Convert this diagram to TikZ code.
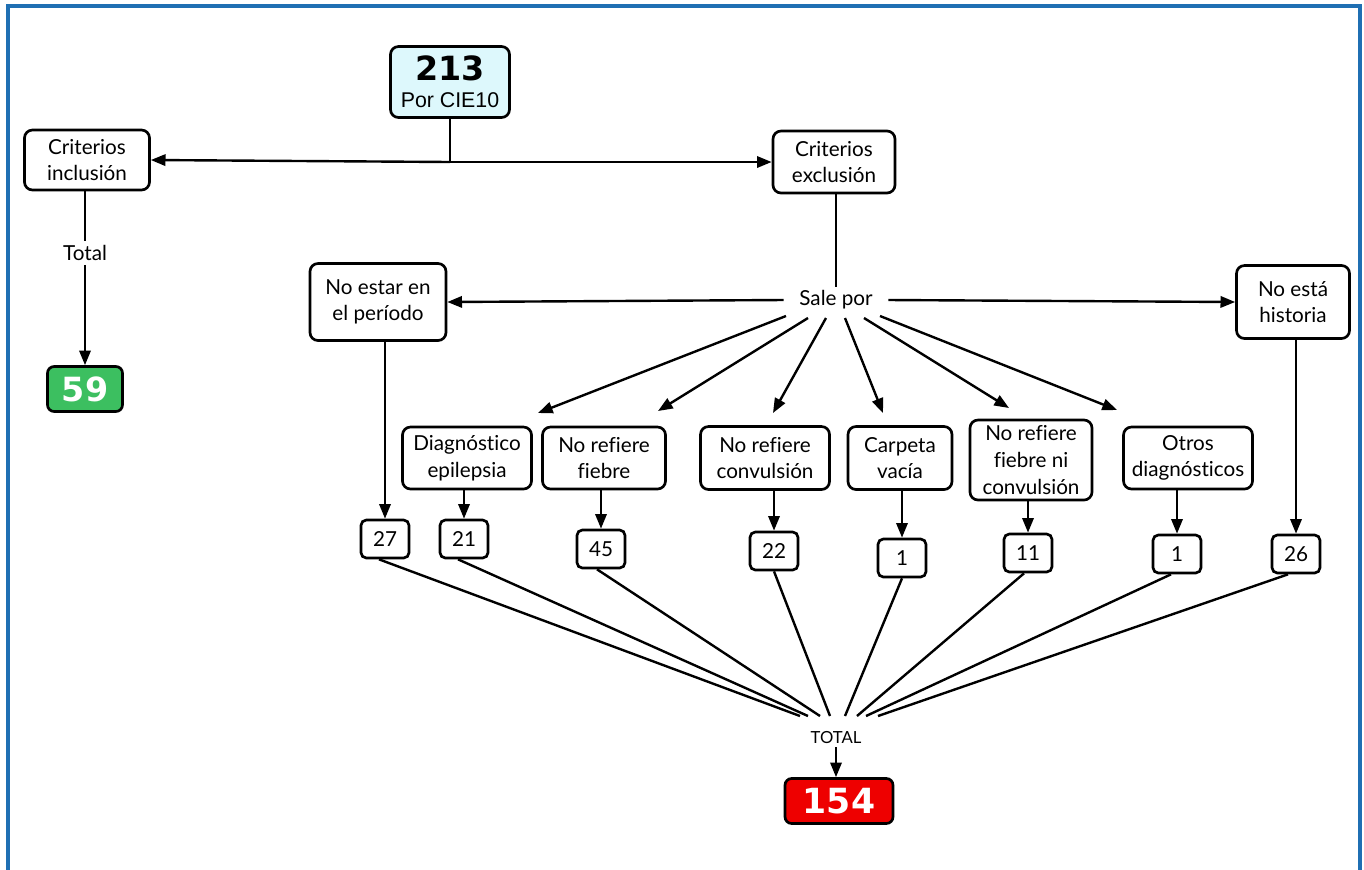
\documentclass[tikz,border=0pt]{standalone}
\usepackage{fontspec}
\setmainfont{Lato}[Ligatures=NoCommon]
\newfontfamily\numfont{DejaVu Sans}
\newfontfamily\arialfont{Liberation Sans}
\usetikzlibrary{arrows.meta}
\definecolor{frameblue}{HTML}{1F6FB3}
\definecolor{topcyan}{HTML}{DDF8FC}
\definecolor{boxgreen}{HTML}{3CBF60}
\definecolor{boxred}{HTML}{EE0000}
\begin{document}
\begin{tikzpicture}[x=0.75pt,y=-0.75pt,
  sz/.style 2 args={minimum width=#1*0.75pt, minimum height=#2*0.75pt},
  box/.style={draw=black, line width=2pt, rounded corners=6pt, fill=white, align=center,
    font=\fontsize{15.5}{20}\selectfont, inner sep=0pt},
  numbox/.style={box, rounded corners=4pt, sz={48}{38}, font=\fontsize{15.5}{17}\selectfont},
  bigbox/.style={draw=black, line width=2pt, rounded corners=5pt, text=white,
    font=\numfont\bfseries\fontsize{25}{26}\selectfont, inner sep=0pt},
  arr/.style={-{Triangle[length=11pt,width=8.5pt]}, line width=1.8pt},
  ln/.style={line width=1.8pt},
  lbl/.style={font=\fontsize{15.5}{18}\selectfont, inner sep=0pt}]
\useasboundingbox (0,0) rectangle (1364,869);
\draw[frameblue, line width=3pt] (7.5,880) -- (7.5,5.5) -- (1359.5,5.5) -- (1359.5,880);

% top level
\node[box, sz={119}{71}, fill=topcyan] (top) at (450,82)
  {{\numfont\bfseries\fontsize{25}{26}\selectfont 213}\\[0pt]{\arialfont\fontsize{16}{17}\selectfont Por CIE10}};
\node[box, sz={125}{60}] (inc) at (87,160) {Criterios\\inclusión};
\node[box, sz={122}{62}] (exc) at (834,162) {Criterios\\exclusión};
\coordinate (split) at (450,162);
\draw[ln] (top.south) -- (split);
\draw[arr] (split) -- (inc.east);
\draw[arr] (split) -- (exc.west);

% inclusion branch
\node[lbl, fill=white, inner sep=3pt] (tot1) at (85,253) {Total};
\node[bigbox, sz={75}{45}, fill=boxgreen] (n59) at (85,389) {59};
\draw[ln] (inc.south -| tot1) -- (tot1.north);
\draw[arr] (tot1.south) -- (n59.north);

% exclusion branch
\node[lbl, inner sep=0pt, minimum width=104*0.75pt, minimum height=26*0.75pt] (sale) at (836,300) {Sale por};
\draw[ln] (exc.south -| sale) -- (sale.north);

\node[box, sz={136}{77}] (per) at (378,302) {No estar en\\el período};
\node[box, sz={113}{73}] (his) at (1293,302) {No está\\historia};
\draw[arr] (sale.west) -- (per.east);
\draw[arr] (sale.east) -- (his.west);

\node[box, sz={129}{62}] (epi) at (467,458) {Diagnóstico\\epilepsia};
\node[box, sz={123}{62}] (fie) at (604,458) {No refiere\\fiebre};
\node[box, sz={129}{63}] (con) at (765,458) {No refiere\\convulsión};
\node[box, sz={104}{63}] (car) at (900,458) {Carpeta\\vacía};
\node[box, sz={122}{80}] (fnc) at (1031,460) {No refiere\\fiebre ni\\convulsión};
\node[box, sz={129}{62}] (otr) at (1188,458) {Otros\\diagnósticos};

% fan arrows from Sale por
\coordinate (s1) at (786,316);
\coordinate (s2) at (808,318);
\coordinate (s3) at (826,318);
\coordinate (s4) at (845,318);
\coordinate (s5) at (864,318);
\coordinate (s6) at (880,316);
\coordinate (t1) at (538,413);
\coordinate (t2) at (658,411);
\coordinate (t3) at (773,413);
\coordinate (t4) at (883,413);
\coordinate (t5) at (1009,408);
\coordinate (t6) at (1117,410);
\foreach \i in {1,...,6} \draw[arr] (s\i) -- (t\i);

% number boxes
\node[numbox] (n27) at (385,539) {27};
\node[numbox] (n21) at (464,539) {21};
\node[numbox] (n45) at (601,549) {45};
\node[numbox] (n22) at (774,551) {22};
\node[numbox] (n1a) at (902,558) {1};
\node[numbox] (n11) at (1028,553) {11};
\node[numbox] (n1b) at (1177,554) {1};
\node[numbox] (n26) at (1296,554) {26};

\draw[arr] (per.south -| n27) -- (n27.north);
\draw[arr] (epi.south -| n21) -- (n21.north);
\draw[arr] (fie.south -| n45) -- (n45.north);
\draw[arr] (con.south -| n22) -- (n22.north);
\draw[arr] (car.south -| n1a) -- (n1a.north);
\draw[arr] (fnc.south -| n11) -- (n11.north);
\draw[arr] (otr.south -| n1b) -- (n1b.north);
\draw[arr] (his.south -| n26) -- (n26.north);

% total
\node[font=\fontsize{12.5}{14}\selectfont, inner sep=0pt] (tot2) at (836,738) {TOTAL};
\node[bigbox, sz={108}{45}, fill=boxred, font=\numfont\bfseries\fontsize{26}{27}\selectfont] (n154) at (839,801) {154};
\draw[arr] (tot2.south) ++(0,3) coordinate (tsrc) (tsrc) -- (n154.north -| tsrc);

\coordinate (c1) at (800,716);
\coordinate (c2) at (808,716);
\coordinate (c3) at (820,716);
\coordinate (c4) at (830,716);
\coordinate (c5) at (845,716);
\coordinate (c6) at (857,716);
\coordinate (c7) at (866,716);
\coordinate (c8) at (878,716);
\draw[ln] ([xshift=-6*0.75pt]n27.south) -- (c1);
\draw[ln] ([xshift=-6*0.75pt]n21.south) -- (c2);
\draw[ln] ([xshift=-4*0.75pt]n45.south) -- (c3);
\draw[ln] (n22.south) -- (c4);
\draw[ln] (n1a.south) -- (c5);
\draw[ln] ([xshift=-4*0.75pt]n11.south) -- (c6);
\draw[ln] ([xshift=-6*0.75pt]n1b.south) -- (c7);
\draw[ln] ([xshift=-8*0.75pt]n26.south) -- (c8);
\end{tikzpicture}
\end{document}
